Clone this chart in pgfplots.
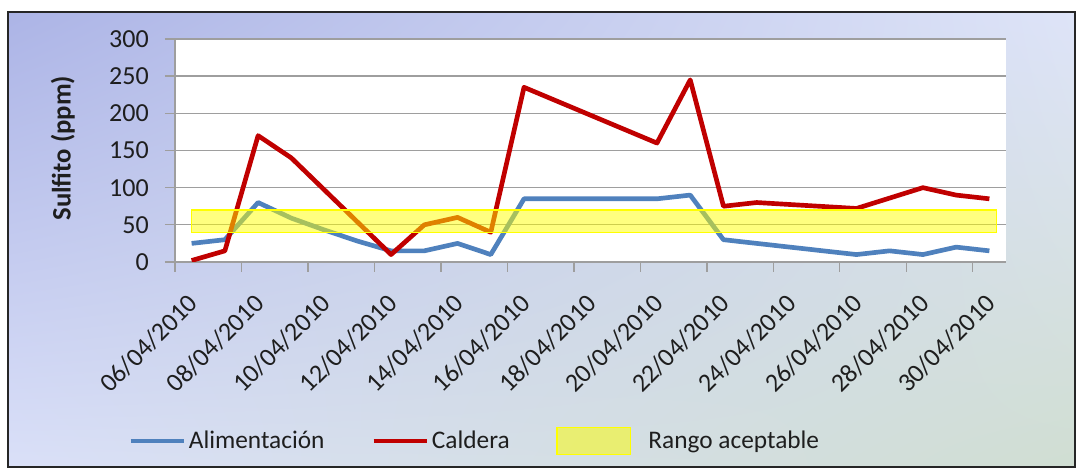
\documentclass[border=0pt]{standalone}
\usepackage{pgfplots}
\pgfplotsset{compat=1.18}
\usetikzlibrary{shadings}
\usepackage{fontspec}
\setmainfont{Carlito}
\definecolor{serA}{RGB}{79,129,189}
\definecolor{serB}{RGB}{192,0,0}
\definecolor{gridc}{RGB}{158,158,158}
\definecolor{txt}{RGB}{30,30,30}
\definecolor{bgUL}{RGB}{172,180,230}
\definecolor{bgUR}{RGB}{222,228,248}
\definecolor{bgLL}{RGB}{218,224,248}
\definecolor{bgLR}{RGB}{208,222,210}
\definecolor{bandY}{RGB}{255,255,0}
\pgfplotsset{bandlegend/.style={legend image code/.code={\draw[draw=bandY, line width=1pt, fill=bandY, fill opacity=0.5] (0pt,-10pt) rectangle (55pt,10pt); \path (66pt,0pt);}}}
\pgfplotstableread{
x y
0 25
1 30
2 80
3 59
4 43
5 28
6 15
7 15
8 25
9 10
10 85
14 85
15 90
16 30
20 10
21 15
22 10
23 20
24 15
}\alim
\pgfplotstableread{
x y
0 2
1 15
2 170
3 140
6 10
7 50
8 60
9 40
10 235
14 160
15 245
16 75
17 80
20 72
22 100
23 90
24 85
}\cald
\begin{document}
\begin{tikzpicture}
\useasboundingbox (0,0) rectangle (808.5pt,352.5pt);
\fill[white] (0,0) rectangle (808.5pt,352.5pt);
\shade[upper left=bgUL, upper right=bgUR, lower left=bgLL, lower right=bgLR] (6pt,2.25pt) rectangle (806.25pt,343.5pt);
\draw[black!85, line width=1.6pt] (6pt,2.25pt) rectangle (806.25pt,343.5pt);
\begin{axis}[
  at={(131.25pt,156pt)}, anchor=south west, scale only axis,
  width=623.25pt, height=167.25pt,
  xmin=-0.5, xmax=24.5, ymin=0, ymax=300,
  axis background/.style={fill=white},
  axis x line*=bottom, axis y line*=left,
  axis line style={gridc, line width=1pt, -},
  xtick={0,2,...,24},
  xticklabels={06/04/2010,08/04/2010,10/04/2010,12/04/2010,14/04/2010,16/04/2010,18/04/2010,20/04/2010,22/04/2010,24/04/2010,26/04/2010,28/04/2010,30/04/2010},
  minor xtick={-0.5,1.5,...,23.5},
  major x tick style={draw=none},
  ytick={0,50,...,300},
  /pgf/number format/assume math mode=true,
  ymajorgrids, grid style={gridc, line width=1pt},
  tick align=outside, tick style={gridc, line width=1pt},
  major tick length=7.5pt, minor tick length=7.5pt,
  ticklabel style={font=\fontsize{19.5}{22}\selectfont, text=txt},
  xticklabel style={xshift=-4pt, yshift=-15pt, rotate=45, anchor=north east, inner sep=0pt},
  yticklabel style={anchor=east, inner sep=0pt, xshift=-12pt},
  ylabel={\textbf{Sulfito (ppm)}},
  ylabel style={at={(axis description cs:-0.135,0.51)}, anchor=center, font=\fontsize{20}{24}\selectfont, text=txt},
  legend style={at={(axis description cs:0.361,-0.803)}, anchor=center, draw=none, fill=none,
    font=\fontsize{19}{22}\selectfont, text=txt, legend columns=3,
    /tikz/every even column/.append style={column sep=33pt}},
  legend cell align=left,
  legend image code/.code={\draw[#1] (0pt,0pt) -- (40pt,0pt);},
]
\addplot[serA, line width=3.5pt, line join=round] table {\alim};
\addlegendentry{Alimentación}
\addplot[serB, line width=3.5pt, line join=round] table {\cald};
\addlegendentry{Caldera}
\addplot[draw=bandY, line width=1pt, fill=bandY, fill opacity=0.5, bandlegend]
  coordinates {(0,40) (24.22,40) (24.22,70) (0,70)} -- cycle;
\addlegendentry{Rango aceptable}
\end{axis}
\end{tikzpicture}
\end{document}
